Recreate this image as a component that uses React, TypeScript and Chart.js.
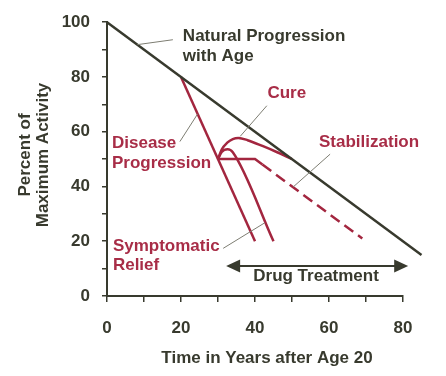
import React, { useEffect, useRef } from 'react';
import { Chart, registerables } from 'chart.js';

Chart.register(...registerables);

// ---- data ----
const naturalX = [0, 85];
const naturalY = [100, 15];

const diseaseX = [20, 40];
const diseaseY = [80, 20];

const cureX = [30, 31, 32.5, 34, 35.5, 38, 42, 46, 50];
const cureY = [50, 53.5, 56, 57.3, 57.7, 56.9, 54.8, 52.5, 50];

const reliefX = [30, 31, 32.6, 34, 45];
const reliefY = [50, 52.6, 53.6, 52.5, 20];

const stabSolidX = [30, 40, 42];
const stabSolidY = [50, 50, 48];

const stabDashX = [42, 69];
const stabDashY = [48, 21];

const xTicks = [0, 20, 40, 60, 80];
const yTicks = [0, 20, 40, 60, 80, 100];

const xTitle = 'Time in Years after Age 20';
const yTitle = ['Percent of', 'Maximum Activity'];

// ---- styles ----
const DARK = '#383a2e';
const RED = '#a3263f';
const RED_TEXT = '#a82d47';
const LEADER = '#7d7d72';
const FONT = '"Liberation Sans", Arial, Helvetica, sans-serif';
const FS = 17;

const pts = (xs: number[], ys: number[]) => xs.map((x, i) => ({ x, y: ys[i] }));

const annotationPlugin = {
  id: 'annotations',
  afterDatasetsDraw(chart: any) {
    const { ctx, scales } = chart;
    const X = (v: number) => scales.x.getPixelForValue(v);
    const Y = (v: number) => scales.y.getPixelForValue(v);
    ctx.save();
    ctx.font = `bold ${FS}px ${FONT}`;
    ctx.textBaseline = 'middle';

    const text = (s: string, x: number, y: number, color: string, align: CanvasTextAlign = 'left') => {
      ctx.fillStyle = color;
      ctx.textAlign = align;
      ctx.fillText(s, x, y);
    };
    const leader = (x1: number, y1: number, x2: number, y2: number) => {
      ctx.strokeStyle = LEADER;
      ctx.lineWidth = 1;
      ctx.beginPath();
      ctx.moveTo(X(x1), Y(y1));
      ctx.lineTo(X(x2), Y(y2));
      ctx.stroke();
    };

    // Natural progression
    leader(8.2, 91.8, 17.8, 93.6);
    text('Natural Progression', X(20.5), Y(95), DARK);
    text('with Age', X(20.5), Y(87.6), DARK);

    // Cure
    leader(36, 58.3, 43.2, 69.5);
    text('Cure', X(48.6), Y(74.1), RED_TEXT, 'center');

    // Disease progression
    leader(19.7, 56.4, 24.5, 66.5);
    text('Disease', X(1.35), Y(55.6), RED_TEXT);
    text('Progression', X(1.35), Y(48.5), RED_TEXT);

    // Stabilization
    leader(50.3, 39.8, 60.3, 51.8);
    text('Stabilization', X(57.3), Y(56), RED_TEXT);

    // Symptomatic relief
    leader(31.4, 17.4, 42.6, 26.7);
    text('Symptomatic', X(1.6), Y(18.1), RED_TEXT);
    text('Relief', X(1.6), Y(11.3), RED_TEXT);

    // Drug treatment arrow
    const ay = Y(11);
    const xl = X(32.2);
    const xr = X(81.4);
    ctx.strokeStyle = DARK;
    ctx.fillStyle = DARK;
    ctx.lineWidth = 2;
    ctx.beginPath();
    ctx.moveTo(xl + 10, ay);
    ctx.lineTo(xr - 10, ay);
    ctx.stroke();
    ctx.beginPath();
    ctx.moveTo(xl, ay);
    ctx.lineTo(xl + 14, ay - 6.5);
    ctx.lineTo(xl + 14, ay + 6.5);
    ctx.closePath();
    ctx.fill();
    ctx.beginPath();
    ctx.moveTo(xr, ay);
    ctx.lineTo(xr - 14, ay - 6.5);
    ctx.lineTo(xr - 14, ay + 6.5);
    ctx.closePath();
    ctx.fill();
    text('Drug Treatment', X(56.5), Y(7.1), DARK, 'center');

    // Axis titles
    ctx.fillStyle = DARK;
    ctx.textAlign = 'center';
    ctx.fillText(xTitle, 267, 358);
    ctx.translate(34, 155);
    ctx.rotate(-Math.PI / 2);
    ctx.fillText(yTitle[0], 0, -9);
    ctx.fillText(yTitle[1], 0, 9);
    ctx.restore();
  },
};

export default function App() {
  const ref = useRef<HTMLCanvasElement | null>(null);

  useEffect(() => {
    if (!ref.current) return;
    const lineDs = (data: any, color: string, extra: any = {}) => ({
      data,
      borderColor: color,
      backgroundColor: color,
      borderWidth: 2.5,
      pointRadius: 0,
      fill: false,
      clip: false,
      ...extra,
    });
    const tickFont = { family: FONT, size: FS, weight: 'bold' as const };
    const chart = new Chart(ref.current, {
      type: 'line',
      data: {
        datasets: [
          lineDs(pts(naturalX, naturalY), DARK),
          lineDs(pts(diseaseX, diseaseY), RED),
          lineDs(pts(cureX, cureY), RED, { cubicInterpolationMode: 'monotone' }),
          lineDs(pts(reliefX, reliefY), RED, { cubicInterpolationMode: 'monotone' }),
          lineDs(pts(stabSolidX, stabSolidY), RED),
          lineDs(pts(stabDashX, stabDashY), RED, { borderDash: [11, 6] }),
        ],
      },
      options: {
        responsive: false,
        maintainAspectRatio: false,
        animation: false,
        devicePixelRatio: 1,
        layout: { padding: { top: 14, right: 43, left: 0, bottom: 0 } },
        plugins: { legend: { display: false }, tooltip: { enabled: false } },
        scales: {
          x: {
            type: 'linear',
            min: 0,
            max: 80,
            afterFit: (s: any) => { s.height = 80; },
            ticks: {
              stepSize: 10,
              autoSkip: false,
              maxRotation: 0,
              padding: 16,
              color: DARK,
              font: tickFont,
              callback: (v: any) => (xTicks.includes(Number(v)) ? String(v) : ''),
            },
            grid: { drawOnChartArea: false, drawTicks: true, tickLength: 6, color: DARK, lineWidth: 1.5 },
            border: { display: true, color: DARK, width: 2 },
          },
          y: {
            type: 'linear',
            min: 0,
            max: 100,
            afterFit: (s: any) => { s.width = 107; },
            ticks: {
              stepSize: 10,
              autoSkip: false,
              padding: 12,
              color: DARK,
              font: tickFont,
              callback: (v: any) => (yTicks.includes(Number(v)) ? String(v) : ''),
            },
            grid: { drawOnChartArea: false, drawTicks: true, tickLength: 5, color: DARK, lineWidth: 1.5 },
            border: { display: true, color: DARK, width: 2 },
          },
        },
      },
      plugins: [annotationPlugin],
    });
    return () => chart.destroy();
  }, []);

  return (
    <div style={{ position: 'absolute', left: 0, top: 0, width: 446, height: 376, background: '#fff' }}>
      <canvas ref={ref} width={446} height={376} />
    </div>
  );
}
